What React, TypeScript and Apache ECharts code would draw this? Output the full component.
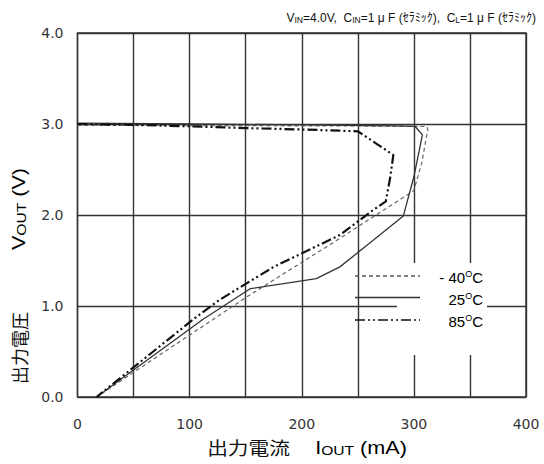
import React, { useEffect, useRef } from "react";
import * as echarts from "echarts";

// ---- data ----
const xTickValues = [0, 100, 200, 300, 400];
const yTickValues = [0, 1, 2, 3, 4];
const seriesNames = ["- 40", "25", "85"];

// -40°C (dashed)
const currentM40 = [0, 100, 200, 250, 300, 311.5, 312.5, 311.5, 307, 300, 294, 231, 151, 67, 17];
const voltM40 = [2.985, 2.983, 2.98, 2.978, 2.975, 2.972, 2.93, 2.88, 2.57, 2.27, 2.22, 1.72, 1.1, 0.41, 0];

// 25°C (solid)
const currentP25 = [0, 100, 200, 280, 301, 307.6, 300, 290.6, 264, 234, 213, 154, 112, 17];
const voltP25 = [3.01, 3.0, 2.99, 2.98, 2.975, 2.88, 2.42, 1.99, 1.725, 1.43, 1.3, 1.19, 0.854, 0];

// 85°C (dash-dot-dot)
const currentP85 = [0, 50, 100, 150, 200, 250, 281.7, 279, 275, 262, 234, 175, 127, 106, 17];
const voltP85 = [3.0, 2.99, 2.975, 2.955, 2.94, 2.92, 2.66, 2.42, 2.15, 2.04, 1.78, 1.43, 1.07, 0.88, 0];

const zip = (xs: number[], ys: number[]) => xs.map((x, i) => [x, ys[i]]);

const LATIN = '"Liberation Sans", Arial, "Noto Sans CJK JP", sans-serif';
const CJK = '"Noto Sans CJK JP", sans-serif';

export default function App() {
  const ref = useRef<HTMLDivElement>(null);

  useEffect(() => {
    if (!ref.current) return;
    const chart = echarts.init(ref.current, null, { renderer: "svg" });

    const legendText = (name: string) => `{t|${name}}{o|O}{t|C}`;
    const legendRich = {
      t: { fontSize: 15, fontFamily: LATIN, color: "#222", verticalAlign: "bottom" },
      o: { fontSize: 9, fontFamily: LATIN, color: "#222", verticalAlign: "top" },
    };

    const option: any = {
      animation: false,
      backgroundColor: "#fff",
      title: {
        text:
          "{n|V}{s|IN}{n|=4.0V,  C}{s|IN}{n|=1 μ F (ｾﾗﾐｯｸ),  C}{s|L}{n|=1 μ F (ｾﾗﾐｯｸ)}",
        right: 3,
        top: 7,
        textStyle: {
          fontWeight: "normal",
          rich: {
            n: { fontSize: 12, fontWeight: "normal", fontFamily: LATIN, color: "#111", verticalAlign: "bottom" },
            s: { fontSize: 8.5, fontWeight: "normal", fontFamily: LATIN, color: "#111", verticalAlign: "bottom" },
          },
        },
      },
      grid: {
        left: 77.5,
        right: 18,
        top: 33,
        bottom: 67,
        show: true,
        borderColor: "#333",
        borderWidth: 1.4,
        backgroundColor: "transparent",
      },
      xAxis: {
        type: "value",
        min: 0,
        max: 400,
        interval: 50,
        axisLine: { show: false },
        axisTick: { show: false },
        axisLabel: {
          margin: 20,
          fontSize: 14,
          fontFamily: '"DejaVu Sans", sans-serif',
          color: "#333",
          formatter: (v: number) => (xTickValues.includes(v) ? String(v) : ""),
        },
        splitLine: { show: true, lineStyle: { color: "#333", width: 1.4 } },
      },
      yAxis: {
        type: "value",
        min: 0,
        max: 4,
        interval: 1,
        axisLine: { show: false },
        axisTick: { show: false },
        axisLabel: {
          margin: 14,
          fontSize: 14,
          fontFamily: '"DejaVu Sans", sans-serif',
          color: "#333",
          formatter: (v: number) => (yTickValues.includes(v) ? v.toFixed(1) : ""),
        },
        splitLine: { show: true, lineStyle: { color: "#333", width: 1.4 } },
      },
      series: [
        {
          name: seriesNames[0],
          type: "line",
          symbol: "none",
          data: zip(currentM40, voltM40),
          lineStyle: { color: "#666", width: 1.2, type: [4, 3] },
          z: 3,
        },
        {
          name: seriesNames[1],
          type: "line",
          symbol: "none",
          data: zip(currentP25, voltP25),
          lineStyle: { color: "#333", width: 1.3, type: "solid" },
          z: 4,
        },
        {
          name: seriesNames[2],
          type: "line",
          symbol: "none",
          data: zip(currentP85, voltP85),
          lineStyle: { color: "#111", width: 2.2, type: [10, 3, 2, 3, 2, 3] },
          z: 5,
        },
      ],
      graphic: [
        // legend background
        {
          type: "rect",
          z: 100,
          shape: { x: 397, y: 263, width: 90, height: 92 },
          style: { fill: "#fff" },
        },
        {
          type: "line",
          z: 101,
          shape: { x1: 355, y1: 276, x2: 420, y2: 276 },
          style: { stroke: "#555", lineWidth: 1.3, lineDash: [4, 3] },
        },
        {
          type: "line",
          z: 101,
          shape: { x1: 355, y1: 297.5, x2: 420, y2: 297.5 },
          style: { stroke: "#333", lineWidth: 1.3 },
        },
        {
          type: "line",
          z: 101,
          shape: { x1: 355, y1: 320, x2: 420, y2: 320 },
          style: { stroke: "#111", lineWidth: 1.6, lineDash: [10, 3, 2, 3, 2, 3] },
        },
        {
          type: "text",
          z: 101,
          x: 483,
          y: 277,
          style: { text: legendText(seriesNames[0]), rich: legendRich, align: "right", verticalAlign: "middle" },
        },
        {
          type: "text",
          z: 101,
          x: 483,
          y: 299,
          style: { text: legendText(seriesNames[1]), rich: legendRich, align: "right", verticalAlign: "middle" },
        },
        {
          type: "text",
          z: 101,
          x: 483,
          y: 321,
          style: { text: legendText(seriesNames[2]), rich: legendRich, align: "right", verticalAlign: "middle" },
        },
        // x axis name
        {
          type: "text",
          x: 248.5,
          y: 448,
          scaleX: 1.15,
          style: { text: "出力電流", font: `18px ${CJK}`, fill: "#111", align: "center", verticalAlign: "middle" },
        },
        {
          type: "text",
          x: 361,
          y: 448,
          scaleX: 1.2,
          style: {
            text: "{b|I}{s|OUT}{b| (mA)}",
            align: "center",
            verticalAlign: "middle",
            rich: {
              b: { fontSize: 18, fontFamily: LATIN, color: "#111", verticalAlign: "bottom" },
              s: { fontSize: 13, fontFamily: LATIN, color: "#111", verticalAlign: "bottom" },
            },
          },
        },
        // y axis name
        {
          type: "text",
          x: 19,
          y: 348,
          rotation: Math.PI / 2,
          style: { text: "出力電圧", font: `18px ${CJK}`, fill: "#111", align: "center", verticalAlign: "middle" },
        },
        {
          type: "text",
          x: 19,
          y: 209,
          rotation: Math.PI / 2,
          scaleX: 1.2,
          style: {
            text: "{b|V}{s|OUT}{b| (V)}",
            align: "center",
            verticalAlign: "middle",
            rich: {
              b: { fontSize: 18, fontFamily: LATIN, color: "#111", verticalAlign: "bottom" },
              s: { fontSize: 13, fontFamily: LATIN, color: "#111", verticalAlign: "bottom" },
            },
          },
        },
      ],
    };

    chart.setOption(option);
    return () => chart.dispose();
  }, []);

  return (
    <div
      ref={ref}
      style={{ position: "absolute", left: 0, top: 0, width: 544, height: 464 }}
    />
  );
}
